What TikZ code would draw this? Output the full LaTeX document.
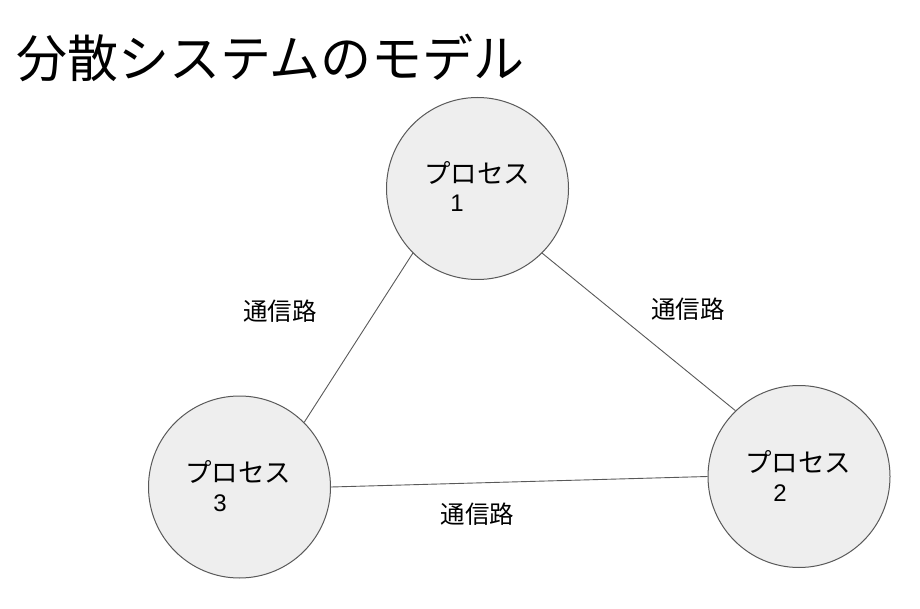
\documentclass[tikz,border=0pt]{standalone}
\usepackage{fontspec}
\setmainfont{Liberation Sans}
\newfontfamily\jp{Noto Sans CJK JP}
\definecolor{procfill}{HTML}{EEEEEE}
\definecolor{procline}{HTML}{595959}
\definecolor{linkline}{HTML}{595959}
\tikzset{
  proc/.style={circle, draw=procline, fill=procfill, line width=1pt, minimum size=182pt, inner sep=0pt},
  ptext/.style={inner sep=0pt, font=\jp\fontsize{26.5}{30}\selectfont},
  pnum/.style={inner sep=0pt, font=\fontsize{24}{28}\selectfont},
  lbl/.style={inner sep=0pt, font=\jp\fontsize{24.5}{28}\selectfont},
  link/.style={draw=linkline, line width=0.9pt},
}
\begin{document}
\begin{tikzpicture}[x=1pt,y=-1pt]
\useasboundingbox (0,0) rectangle (920,609);
\node[inner sep=0pt, anchor=west, font=\jp\fontsize{51}{58}\selectfont] (title) at (16,58) {分散システムのモデル};
\node[proc] (p1) at (477.5,188.5) {};
\node[proc] (p2) at (799,476.5) {};
\node[proc] (p3) at (239.5,487) {};
\node[ptext] (t1) at (477,173) {プロセス};
\node[pnum] (n1) at (457,203) {1};
\node[ptext] (t2) at (798,462) {プロセス};
\node[pnum] (n2) at (780,493) {2};
\node[ptext] (t3) at (238,472) {プロセス};
\node[pnum] (n3) at (220,503) {3};
\draw[link] (p1.225) -- (p3.45);
\draw[link] (p1.-45) -- (p2.134);
\draw[link] (p3.0) -- (p2.180);
\node[lbl] (l13) at (280,311) {通信路};
\node[lbl] (l12) at (688,309) {通信路};
\node[lbl] (l32) at (477.5,514) {通信路};
\end{tikzpicture}
\end{document}
